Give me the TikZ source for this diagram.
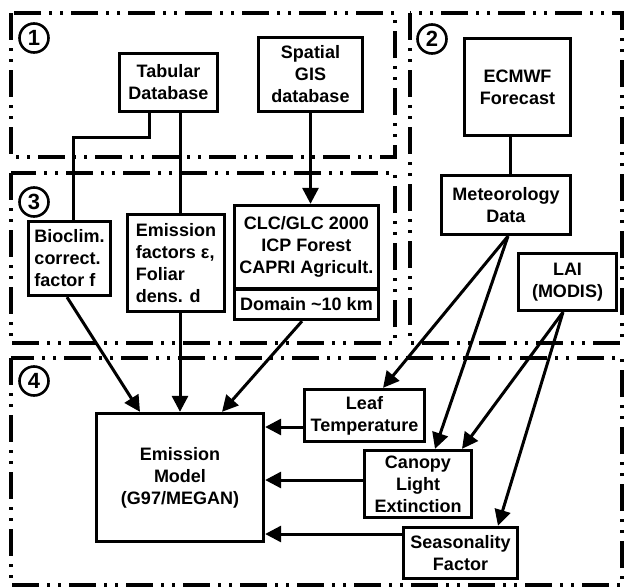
\documentclass[tikz,border=0pt]{standalone}
\usepackage{fontspec}
\setmainfont{Liberation Sans}
\usetikzlibrary{arrows.meta}
\begin{document}
\begin{tikzpicture}[x=1pt,y=-1pt,
  box/.style={draw,line width=3.3pt,inner sep=0pt,align=center,
    font=\bfseries\fontsize{18}{22}\selectfont},
  zone/.style={line width=3.3pt,
    dash pattern=on 27pt off 8pt on 3pt off 8pt on 3pt off 8pt},
  num/.style={circle,draw,line width=2.6pt,minimum size=29pt,inner sep=0pt,
    font=\bfseries\fontsize{22}{22}\selectfont},
  ln/.style={line width=3pt},
  arr/.style={ln,-{Triangle[length=16pt,width=16pt]}}
]
\useasboundingbox (0,0) rectangle (625,587);

% zones
\draw[zone] (11,13) rectangle (395,157);
\draw[zone] (410,13) rectangle (622,343);
\draw[zone] (11,173) rectangle (395,343);
\draw[zone] (11,358) rectangle (622,585);

\node[num] (n1) at (34,38) {1};
\node[num] (n2) at (432,39) {2};
\node[num] (n3) at (34,202) {3};
\node[num] (n4) at (34,381) {4};

% boxes
\node[box,minimum width=98,minimum height=58] (tab) at (168.5,82.5) {Tabular\\Database};
\node[box,minimum width=104,minimum height=74] (gis) at (310.5,74.5) {Spatial\\GIS\\database};
\node[box,minimum width=106,minimum height=97] (ecm) at (517.5,87) {ECMWF\\Forecast};
\node[box,minimum width=129,minimum height=59] (met) at (506,205) {Meteorology\\Data};
\node[box,minimum width=98,minimum height=57] (lai) at (567.5,282) {LAI\\(MODIS)};
\node[box,align=left,minimum width=82,minimum height=74] (bio) at (69.5,258.5) {Bioclim.\\correct.\\factor f};
\node[box,align=left,minimum width=97,minimum height=97] (ef) at (176,263) {Emission\\factors ε,\\Foliar\\dens. d};
\node[box,minimum width=144,minimum height=83.5] (clc) at (306.5,247.25) {CLC/GLC 2000\\ICP Forest\\CAPRI Agricult.};
\node[box,minimum width=144,minimum height=30.5] (dom) at (306.5,304.25) {Domain \textasciitilde10 km};
\node[box,minimum width=167,minimum height=128] (em) at (180,477.5) {Emission\\Model\\(G97/MEGAN)};
\node[box,minimum width=120,minimum height=52] (leaf) at (364.5,415.5) {Leaf\\Temperature};
\node[box,minimum width=107,minimum height=67] (can) at (418,484) {Canopy\\Light\\Extinction};
\node[box,minimum width=114,minimum height=51] (sea) at (460.5,553) {Seasonality\\Factor};

% connectors
\draw[ln] ([xshift=-19.5]tab.south) -- ++(0,24.5) -| ([xshift=3.5]bio.north);
\draw[ln] ([xshift=11.5]tab.south) -- ([xshift=4]ef.north);
\draw[arr] ([xshift=4]ef.south) -- (em.north);
\draw[arr] ([xshift=-2.5]bio.south) -- ([xshift=-40]em.north);
\draw[arr] ([xshift=-4.5]dom.south) -- ([xshift=42]em.north);
\draw[arr] (gis.south) -- (gis.south |- clc.north);
\draw[ln] ([xshift=4]met.north) -- ([xshift=4]met.north |- ecm.south);
\draw[arr] ([xshift=2]met.south) -- ([xshift=18.5]leaf.north);
\draw[arr] ([xshift=2]met.south) -- ([xshift=17]can.north);
\draw[arr] ([xshift=-4.5]lai.south) -- ([xshift=44]can.north);
\draw[arr] ([xshift=-4.5]lai.south) -- ([xshift=37.5]sea.north);

\coordinate (lt) at ([yshift=-11.5]leaf.west);
\coordinate (ct) at ([yshift=4]can.west);
\coordinate (st) at ([yshift=19]sea.west);
\draw[arr] (lt) -- (em.east |- lt);
\draw[arr] (ct) -- (em.east |- ct);
\draw[arr] (st) -- (em.east |- st);
\end{tikzpicture}
\end{document}
